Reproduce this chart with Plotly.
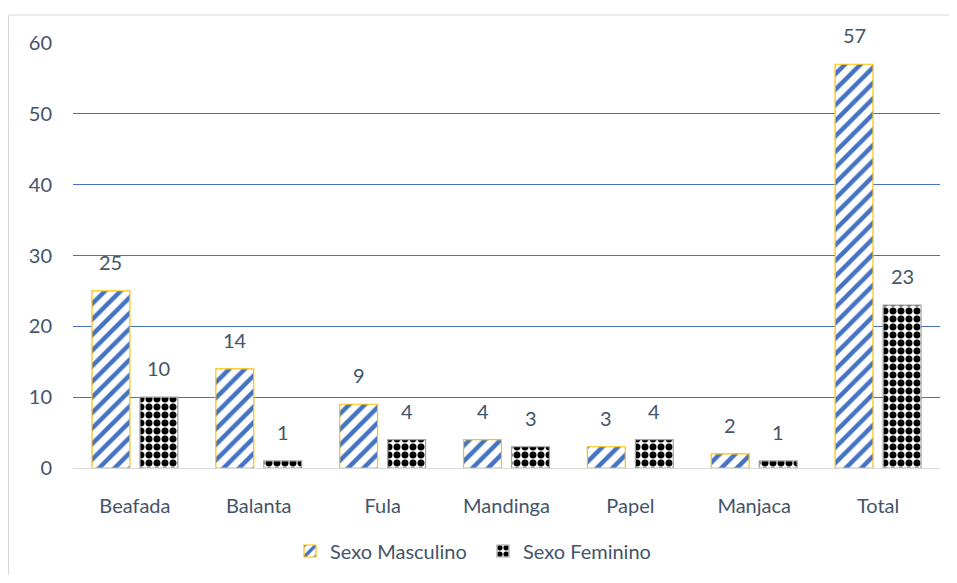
import plotly.graph_objects as go

categories = ["Beafada", "Balanta", "Fula", "Mandinga", "Papel", "Manjaca", "Total"]
masculino = [25, 14, 9, 4, 3, 2, 57]
feminino = [10, 1, 4, 3, 4, 1, 23]
y_ticks = [0, 10, 20, 30, 40, 50, 60]

FONT = "Lato, Open Sans, sans-serif"
TXT = "#44546A"
# page has an 8px body margin; figure is sized/offset to compensate
W, H = 941, 567
L, T, R, B = 65, 35, 9, 107
PW, PH = W - L - R, H - T - B

fig = go.Figure()
fig.add_trace(go.Bar(
    x=categories, y=masculino, name="Sexo Masculino",
    marker=dict(color="white",
                pattern=dict(shape="/", fgcolor="#4472C4", bgcolor="white", size=11, solidity=0.4, fillmode="replace"),
                line=dict(color="#FFC000", width=1.2)),
))
fig.add_trace(go.Bar(
    x=categories, y=feminino, name="Sexo Feminino",
    marker=dict(color="white",
                pattern=dict(shape=".", fgcolor="black", bgcolor="white", size=8, solidity=0.6, fillmode="replace"),
                line=dict(color="#A5A5A5", width=1.2)),
))

for c, v in zip(categories, masculino):
    fig.add_annotation(x=c, y=v, xref="x", yref="y", text=str(v), showarrow=False,
                       xshift=-24, yshift=15, yanchor="bottom",
                       font=dict(family=FONT, size=20, color=TXT))
for c, v in zip(categories, feminino):
    fig.add_annotation(x=c, y=v, xref="x", yref="y", text=str(v), showarrow=False,
                       xshift=24, yshift=15, yanchor="bottom",
                       font=dict(family=FONT, size=20, color=TXT))

fig.update_layout(
    width=W, height=H,
    margin=dict(l=L, r=R, t=T, b=B, autoexpand=False),
    paper_bgcolor="white", plot_bgcolor="white",
    barmode="group", bargap=0.225, bargroupgap=0.21,
    font=dict(family=FONT, size=20, color=TXT),
    legend=dict(orientation="h", x=(290 - 8) / W, xanchor="left", xref="container",
                y=1 - 543 / H, yanchor="middle", yref="container",
                bgcolor="rgba(0,0,0,0)", entrywidth=148,
                font=dict(family=FONT, size=20, color=TXT)),
    xaxis=dict(showgrid=False, showline=True, linecolor="#D9D9D9", ticks="",
               automargin=False, ticklabelstandoff=20,
               tickfont=dict(family=FONT, size=20, color=TXT)),
    yaxis=dict(range=[0, 60], tickvals=y_ticks, showgrid=True, gridcolor="#4472C4", gridwidth=1,
               zeroline=False, showline=False, ticks="", automargin=False, ticklabelstandoff=20,
               tickfont=dict(family=FONT, size=20, color=TXT)),
)
# outer chart border
fig.add_shape(type="rect", xref="paper", yref="paper",
              x0=(0.5 - L) / PW, x1=(W + 20 - L) / PW,
              y0=-(B + 20) / PH, y1=(PH + T - 7) / PH,
              line=dict(color="#D9D9D9", width=1), layer="below")

fig.write_html("out.html")
